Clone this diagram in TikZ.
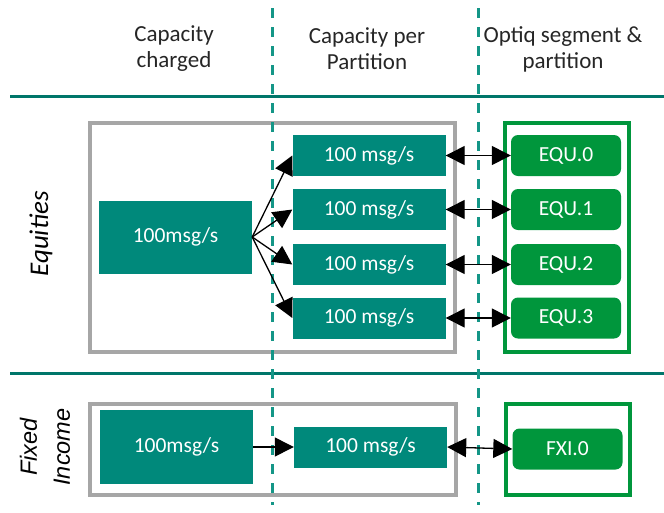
\documentclass[tikz,border=0pt]{standalone}
\usepackage{fontspec}
\setmainfont{Carlito}
\newfontfamily\fisans{Liberation Sans}
\usetikzlibrary{arrows.meta}
\definecolor{tealbox}{RGB}{0,137,123}
\definecolor{tealline}{RGB}{0,118,106}
\definecolor{tealdash}{RGB}{20,150,135}
\definecolor{greenbox}{RGB}{0,150,60}
\definecolor{graybox}{RGB}{166,166,166}
\tikzset{
  tbox/.style={fill=tealbox, draw=none, text=white, inner sep=0pt, font=\fontsize{21.5}{24}\selectfont},
  gbox/.style={fill=greenbox, draw=none, text=white, inner sep=0pt, rounded corners=7pt, font=\fontsize{21.5}{24}\selectfont, minimum width=110pt, minimum height=41pt},
  pbox/.style={tbox, minimum width=153pt, minimum height=41pt},
  frame/.style={draw=graybox, line width=4pt, fill=none},
  gframe/.style={draw=greenbox, line width=4pt, fill=none},
  sep/.style={draw=tealline, line width=3pt},
  vdash/.style={draw=tealdash, line width=3pt, dash pattern=on 10pt off 9pt},
  hdr/.style={align=center, font=\fontsize{23}{26}\selectfont, text=black!85},
  arr/.style={draw=black, line width=1.3pt, -{Triangle[length=19pt,width=19pt]}},
  dblarr/.style={draw=black, line width=1.3pt, {Triangle[length=19pt,width=19pt]}-{Triangle[length=19pt,width=19pt]}},
}
\begin{document}
\begin{tikzpicture}[x=1pt,y=-1pt]
\useasboundingbox (0,0) rectangle (664,512);
% header
\node[hdr] (h1) at (174,49) {Capacity\\charged};
\node[hdr] (h2) at (367,49) {Capacity per\\Partition};
\node[hdr] (h3) at (563,49) {Optiq segment \&\\partition};
% frames
\draw[frame] (90,123) rectangle (455,352);
\draw[gframe] (505,123) rectangle (629,352);
\draw[frame] (90,404) rectangle (456,495);
\draw[gframe] (506,404) rectangle (630,495);
% separators
\draw[sep] (10,96) -- (664,96);
\draw[sep] (10,373) -- (664,373);
\draw[vdash] (272,8) -- (272,505);
\draw[vdash] (478,8) -- (478,505);
% labels
\node[rotate=90, font=\fontsize{27}{30}\selectfont\itshape] (eqlab) at (41,234) {Equities};
\node[rotate=90, align=center, font=\fisans\fontsize{23.5}{33}\selectfont\itshape] (filab) at (45,447) {Fixed\\Income};
% equities
\node[tbox, minimum width=153pt, minimum height=73pt] (eqbig) at (175.5,237) {100msg/s};
\node[pbox] (p0) at (369,155.5) {100 msg/s};
\node[pbox] (p1) at (369,209.5) {100 msg/s};
\node[pbox] (p2) at (369,264.5) {100 msg/s};
\node[pbox] (p3) at (369,318) {100 msg/s};
\node[gbox] (e0) at (566,155.5) {EQU.0};
\node[gbox] (e1) at (566,209.5) {EQU.1};
\node[gbox] (e2) at (566,264.5) {EQU.2};
\node[gbox] (e3) at (566,318) {EQU.3};
\foreach \i in {0,1,2,3} {
  \draw[arr] (eqbig.east) -- (p\i.west);
  \draw[dblarr] (p\i.east) -- (e\i.west);
}
% fixed income
\node[tbox, minimum width=153pt, minimum height=74pt] (fibig) at (176.5,447) {100msg/s};
\node[pbox] (fp) at (370.5,447) {100 msg/s};
\node[gbox] (fx) at (567.5,449) {FXI.0};
\draw[arr] (fibig.east) -- (fp.west);
\draw[dblarr] (fp.east) -- (fx.west);
\end{tikzpicture}
\end{document}
